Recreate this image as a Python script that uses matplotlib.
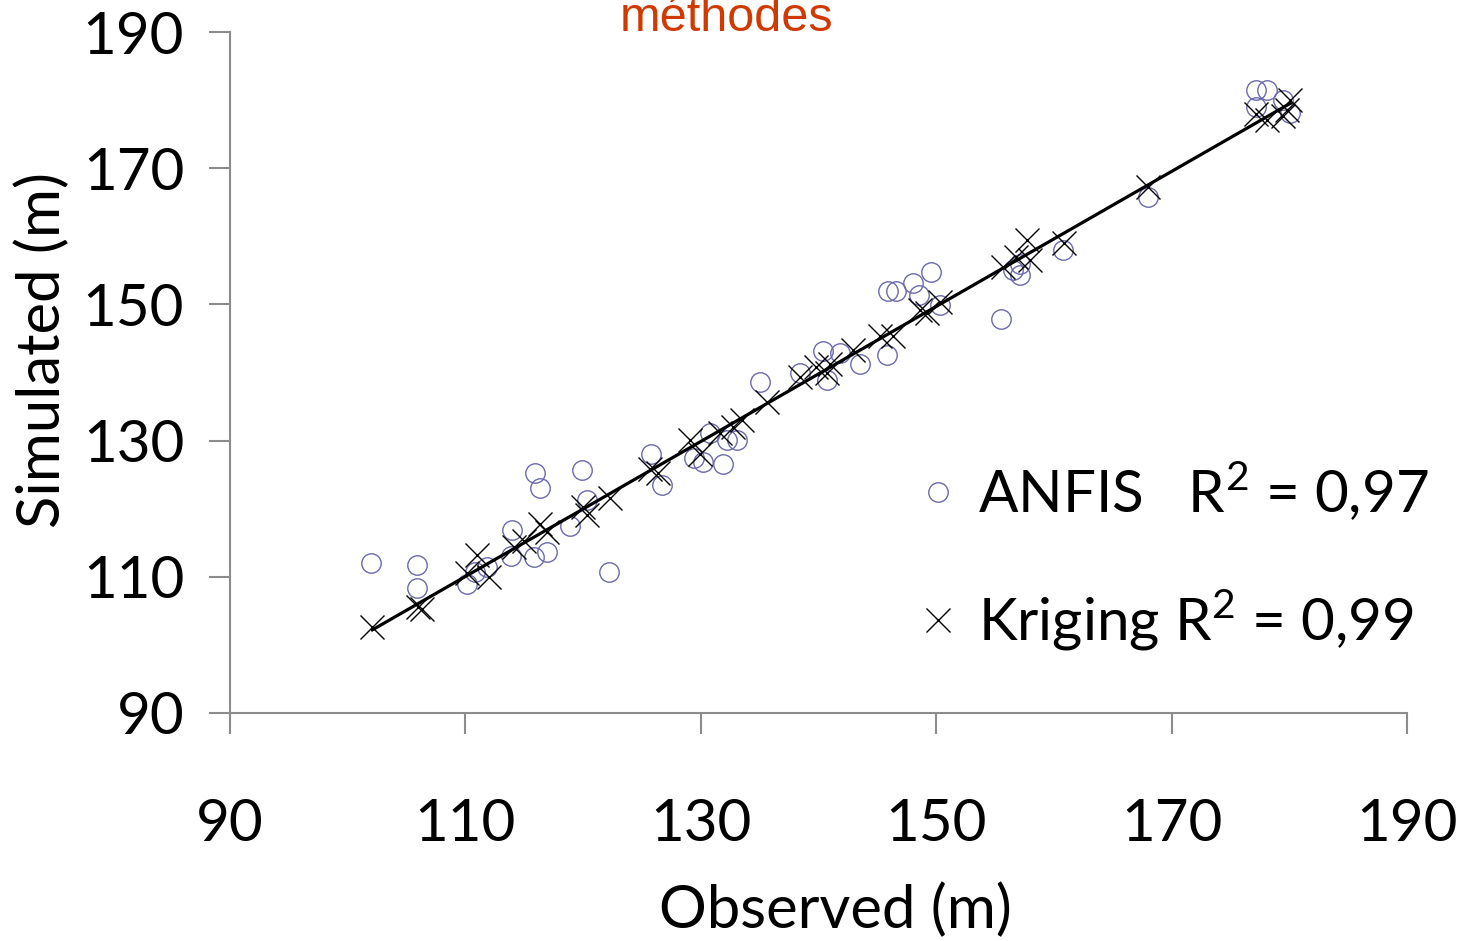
import numpy as np
import matplotlib
matplotlib.use("Agg")
import matplotlib.pyplot as plt

# observed vs simulated heights (m)
anfis_obs = [102.0, 105.9, 105.9, 110.1, 110.8, 111.8, 113.9, 114.0, 115.8, 115.9,
             116.3, 116.9, 118.9, 119.9, 120.3, 122.2, 125.8, 126.7, 129.4, 130.2,
             130.8, 131.9, 132.2, 133.1, 135.0, 138.4, 140.4, 140.7, 141.8, 143.5,
             145.8, 145.9, 146.6, 148.0, 148.5, 149.6, 150.3, 155.5, 156.5, 157.1,
             157.1, 160.8, 168.0, 177.2, 178.1, 177.2, 179.5, 180.1]
anfis_sim = [112.0, 111.8, 108.4, 109.0, 110.7, 111.5, 113.0, 116.9, 112.9, 125.2,
             123.0, 113.7, 117.4, 125.7, 121.3, 110.7, 128.1, 123.5, 127.4, 126.9,
             131.1, 126.6, 130.1, 130.1, 138.6, 139.9, 143.1, 138.9, 142.8, 141.3,
             142.6, 151.9, 151.9, 153.1, 151.4, 154.8, 149.9, 147.9, 155.1, 156.0,
             154.3, 158.0, 165.8, 181.5, 181.5, 179.0, 180.0, 178.1]

krig_obs = [102.1, 106.0, 106.3, 110.1, 111.0, 112.0, 114.1, 115.0, 116.3, 116.9,
            120.0, 120.3, 122.3, 125.7, 126.4, 129.1, 129.9, 131.6, 132.7, 133.5,
            135.6, 138.4, 139.8, 140.7, 141.0, 142.9, 145.2, 146.3, 148.6, 149.2,
            150.3, 155.7, 156.8, 157.7, 158.0, 160.9, 168.0, 177.2, 178.1, 179.5,
            179.8, 180.1]
krig_sim = [102.6, 105.6, 105.2, 110.5, 113.2, 110.0, 114.4, 115.3, 117.8, 116.6,
            120.3, 119.1, 121.5, 125.9, 125.2, 130.1, 128.1, 131.1, 132.0, 133.0,
            135.7, 139.3, 140.8, 139.9, 141.3, 143.3, 145.3, 145.3, 149.2, 148.7,
            150.4, 155.5, 157.0, 159.5, 156.5, 159.0, 167.3, 178.0, 177.1, 177.6,
            178.5, 180.0]

ticks = [90, 110, 130, 150, 170, 190]
labels = ["ANFIS   R$^2$ = 0,97", "Kriging R$^2$ = 0,99"]

plt.rcParams['font.family'] = ['Lato', 'DejaVu Sans']
plt.rcParams['mathtext.fontset'] = 'custom'
plt.rcParams['mathtext.rm'] = 'Lato'

W, H = 1465, 941
fig = plt.figure(figsize=(W / 100, H / 100), dpi=100)
ax = fig.add_axes([230 / W, 1 - 713 / H, (1407 - 230) / W, (713 - 32) / H])

ax.plot(anfis_obs, anfis_sim, 'o', ms=14, mfc='none', mec='#6a6aaa', mew=1.0,
        label=labels[0], zorder=2)
ax.plot(krig_obs, krig_sim, 'x', ms=17, color='black', mew=1.0,
        label=labels[1], zorder=3)

# linear trend of the kriging points
k = np.polyfit(krig_obs, krig_sim, 1)
xl = np.array([min(krig_obs), max(krig_obs)])
ax.plot(xl, np.polyval(k, xl), color='black', lw=2.3, zorder=4)

ax.set_xlim(90, 190)
ax.set_ylim(90, 190)
ax.set_xticks(ticks)
ax.set_yticks(ticks)
for s in ['top', 'right']:
    ax.spines[s].set_visible(False)
for s in ['left', 'bottom']:
    ax.spines[s].set_color('#8c8c8c')
    ax.spines[s].set_linewidth(1.5)
ax.tick_params(axis='both', colors='#8c8c8c', width=1.5, length=15, labelsize=42,
               labelcolor='black')
ax.tick_params(axis='x', pad=46)
ax.tick_params(axis='y', pad=18)

fig.text(835 / W, 1 - 910 / H, "Observed (m)", fontsize=43, ha='center', va='center')
fig.text(42 / W, 1 - 350 / H, "Simulated (m)", fontsize=43, ha='center', va='center',
         rotation=90)

leg = ax.legend(loc='center left', bbox_to_anchor=(920 / W, 1 - 556 / H),
                bbox_transform=fig.transFigure, frameon=False, fontsize=42,
                handlelength=0.6, handletextpad=0.4, labelspacing=1.1,
                borderpad=0, borderaxespad=0)

# title is cut off at the top edge, as in the source image
fig.text(727 / W, 1 - 31 / H, "méthodes", ha='center', va='baseline',
         fontsize=35, color='#d03a00', family='Liberation Sans')

fig.savefig("out.png", dpi=100)
